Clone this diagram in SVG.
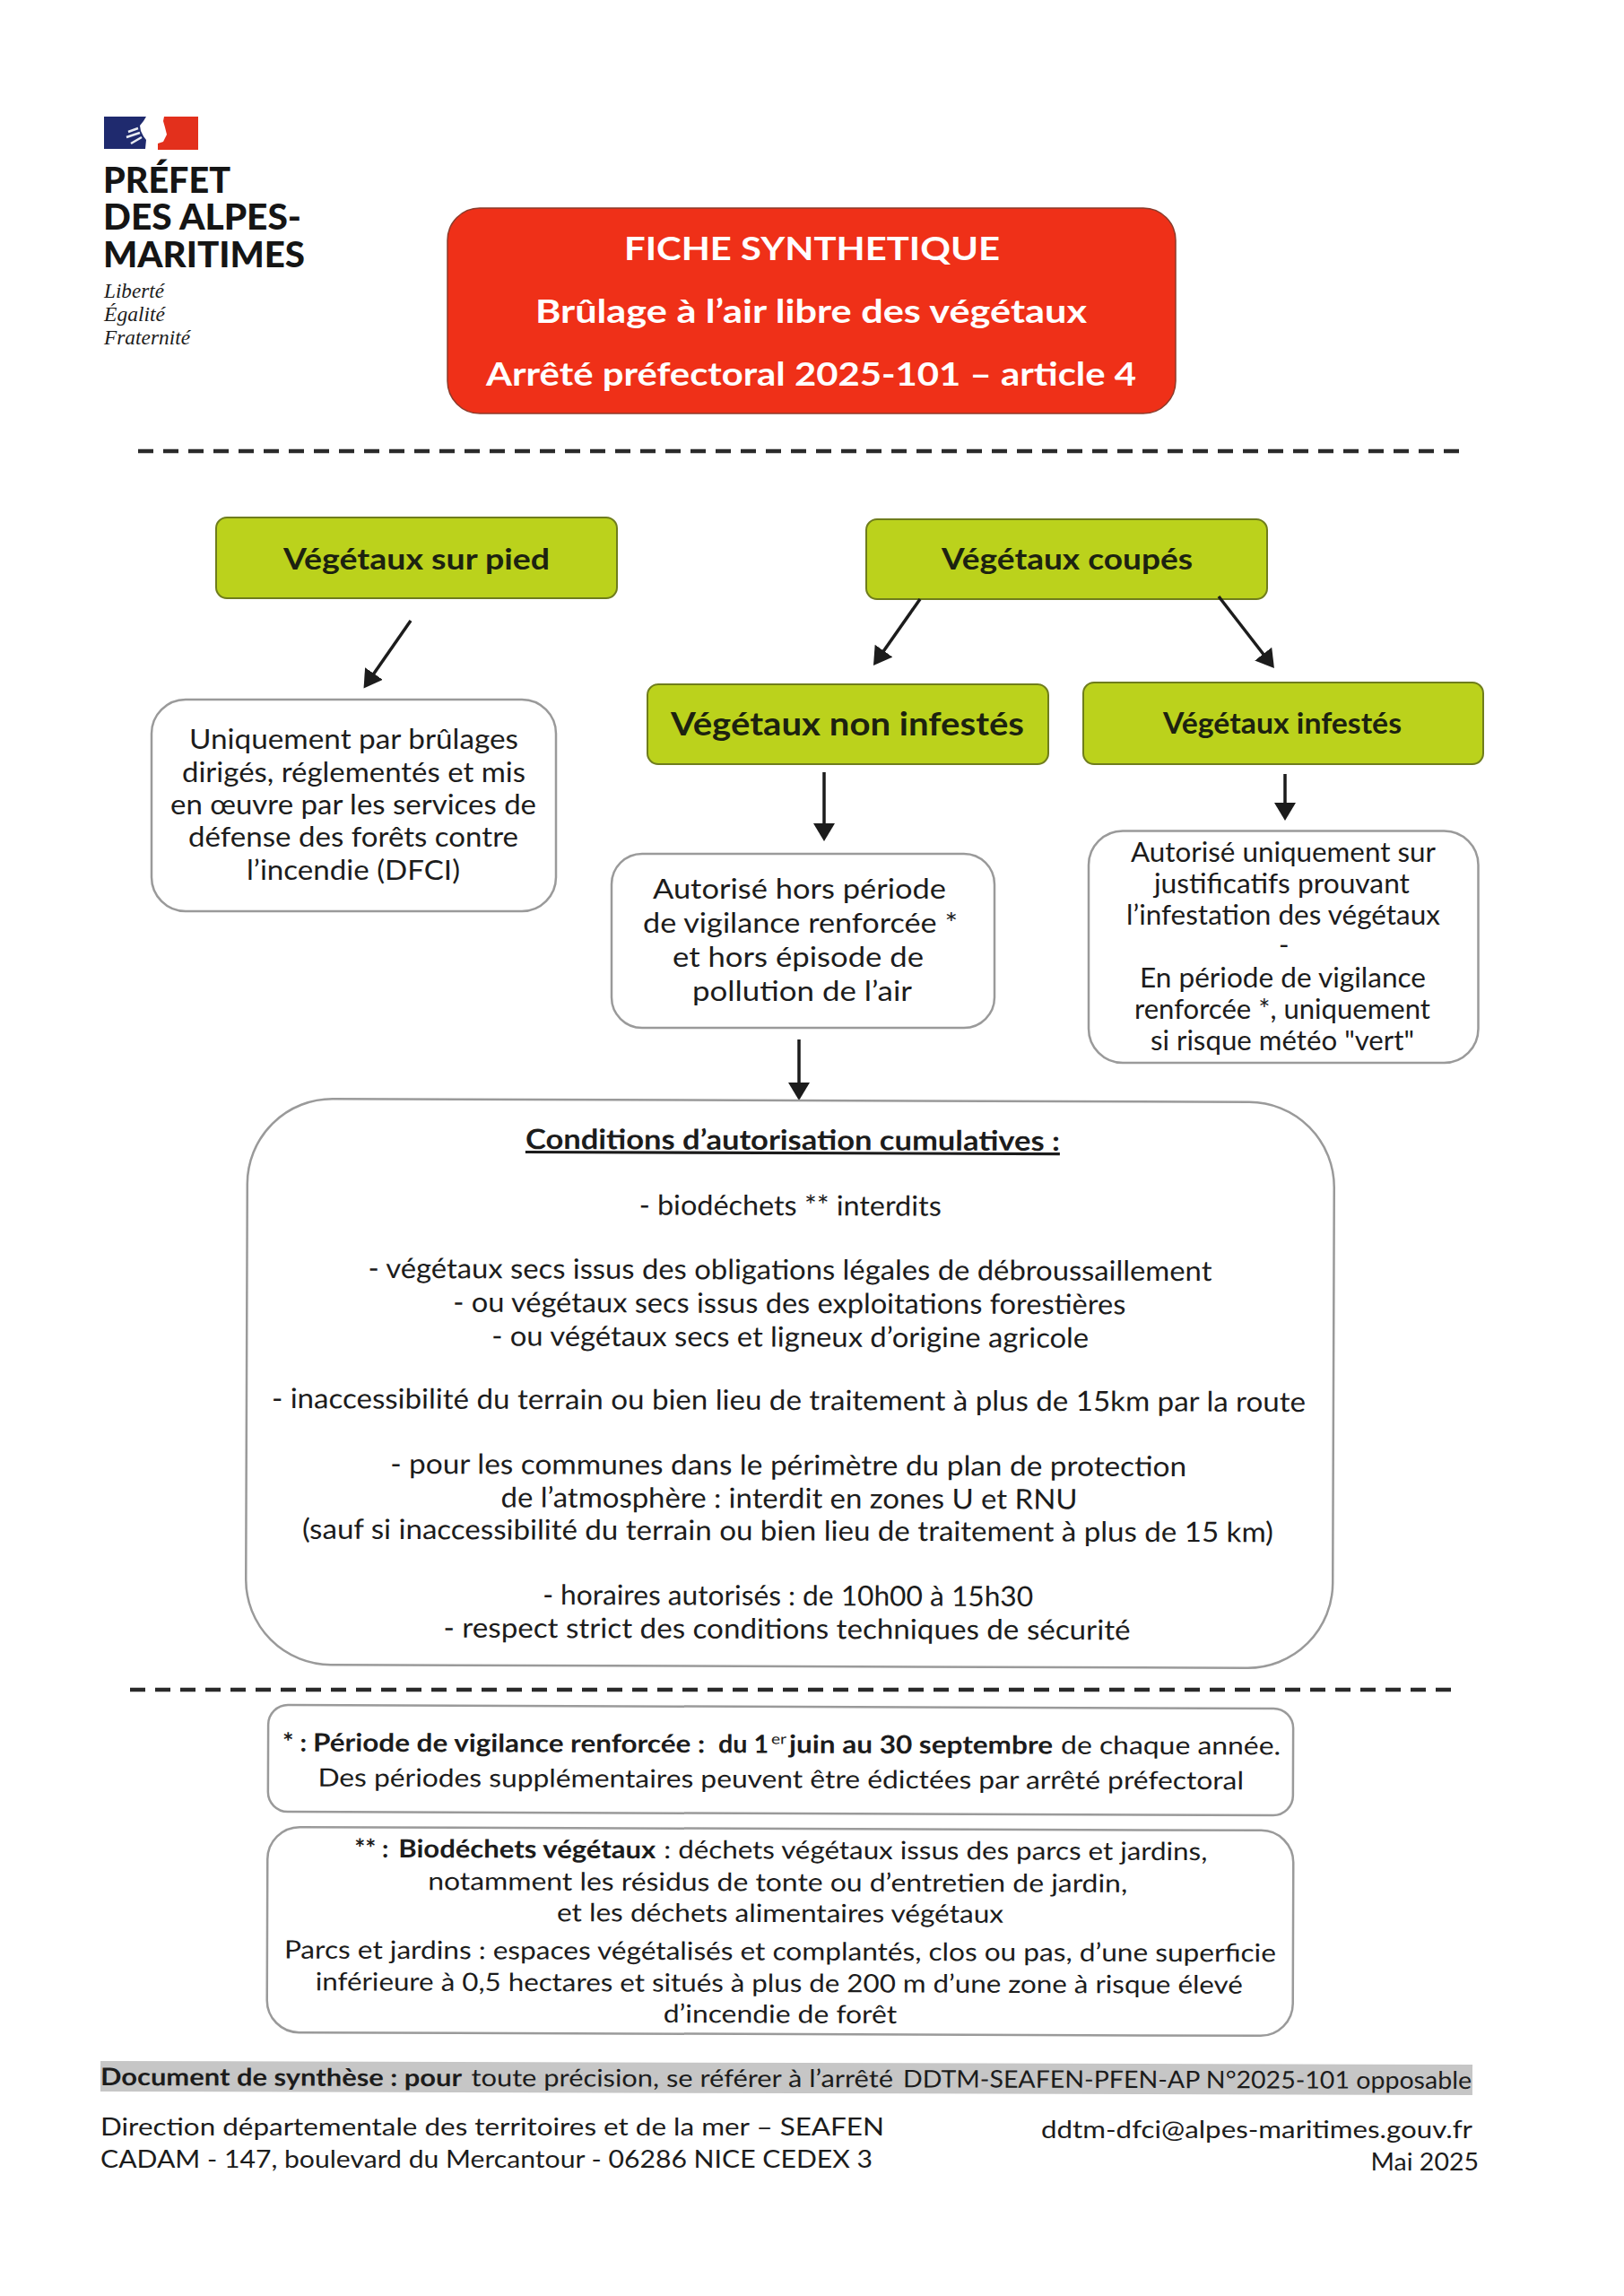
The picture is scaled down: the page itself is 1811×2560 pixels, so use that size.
<svg xmlns="http://www.w3.org/2000/svg" width="1811" height="2560" viewBox="0 0 1811 2560">
<style>
text{font-family:"Lato","Liberation Sans",sans-serif;fill:#1c1c1c;font-size:31px}
.g{font-weight:700;font-size:33px;fill:#1c2210}
.w{font-weight:700;font-size:36px;fill:#fff}
.n{font-size:28px}
.nb{font-size:28px;font-weight:700}
.f{font-size:27px}
.logo{font-weight:900;font-size:39px;fill:#151515}
.dev{font-family:"Liberation Serif",serif;font-style:italic;font-size:23px}
.box{fill:#fff;stroke:#9a9a9a;stroke-width:2.5}
.green{fill:#bbd21c;stroke:#6f7d1c;stroke-width:2}
.dash{stroke:#2a2a2a;stroke-width:4.5;stroke-dasharray:17 11;fill:none}
.arrow{stroke:#1c1c1c;stroke-width:3.5;fill:none;marker-end:url(#head)}
</style>
<defs>
<marker id="head" markerUnits="userSpaceOnUse" markerWidth="24" markerHeight="24" refX="8" refY="12" orient="auto"><path d="M0,0L20,12L0,24z" fill="#1c1c1c"/></marker>
</defs>
<rect width="1811" height="2560" fill="#fff"/>

<g id="logo">
<path d="M116,130H163L160,135L156,140L157,146L160,152L163,156L162,166H116z" fill="#1f2a6e"/>
<path d="M143,147L154,143M141,153L156,148M146,160L158,153" stroke="#e8ebf2" stroke-width="2.5" fill="none"/>
<path d="M183,130H221V167H176V160L182,158L186,150L184,142L182,135z" fill="#e3301c"/>
<text class="logo" x="115" y="215" textLength="142" lengthAdjust="spacingAndGlyphs">PRÉFET</text>
<text class="logo" x="115" y="256" textLength="221" lengthAdjust="spacingAndGlyphs">DES ALPES-</text>
<text class="logo" x="115" y="298" textLength="225" lengthAdjust="spacingAndGlyphs">MARITIMES</text>
<text class="dev" x="116" y="332" textLength="67" lengthAdjust="spacingAndGlyphs">Liberté</text>
<text class="dev" x="116" y="358" textLength="68" lengthAdjust="spacingAndGlyphs">Égalité</text>
<text class="dev" x="116" y="384" textLength="96" lengthAdjust="spacingAndGlyphs">Fraternité</text>
</g>

<g id="title">
<rect x="499" y="232" width="812" height="229" rx="36" fill="#ef3018" stroke="#8c3a2a" stroke-width="1.5"/>
<text class="w" x="696" y="290" textLength="419" lengthAdjust="spacingAndGlyphs">FICHE SYNTHETIQUE</text>
<text class="w" x="597" y="360" textLength="615" lengthAdjust="spacingAndGlyphs">Brûlage à l’air libre des végétaux</text>
<text class="w" x="542" y="430" textLength="725" lengthAdjust="spacingAndGlyphs">Arrêté préfectoral 2025-101 – article 4</text>
</g>

<g id="separators">
<path class="dash" d="M154,503H1630"/>
<path class="dash" d="M145,1884H1625"/>
</g>

<g id="node-sur-pied">
<rect class="green" x="241" y="577" width="447" height="90" rx="12"/>
<text class="g" x="316" y="635" textLength="297" lengthAdjust="spacingAndGlyphs">Végétaux sur pied</text>
</g>
<g id="node-coupes">
<rect class="green" x="966" y="579" width="447" height="89" rx="12"/>
<text class="g" x="1050" y="635" textLength="280" lengthAdjust="spacingAndGlyphs">Végétaux coupés</text>
</g>
<g id="node-non-infestes">
<rect class="green" x="722" y="763" width="447" height="89" rx="12"/>
<text class="g" style="font-size:36px" x="748" y="820" textLength="394" lengthAdjust="spacingAndGlyphs">Végétaux non infestés</text>
</g>
<g id="node-infestes">
<rect class="green" x="1208" y="761" width="446" height="91" rx="12"/>
<text class="g" x="1297" y="818" textLength="266" lengthAdjust="spacingAndGlyphs">Végétaux infestés</text>
</g>

<g id="connectors">
<path class="arrow" d="M458,692L412.4,757.6"/>
<path class="arrow" d="M1026,668L980.9,732.2"/>
<path class="arrow" d="M1359,665L1413.6,735.5"/>
<path class="arrow" d="M919,861V926"/>
<path class="arrow" d="M1433,863V903"/>
<path class="arrow" d="M891,1159V1215"/>
</g>

<g id="node-dfci">
<rect class="box" x="169" y="780" width="451" height="236" rx="38"/>
<text x="211" y="835" textLength="367" lengthAdjust="spacingAndGlyphs">Uniquement par brûlages</text>
<text x="203" y="871.5" textLength="383" lengthAdjust="spacingAndGlyphs">dirigés, réglementés et mis</text>
<text x="190" y="908" textLength="408" lengthAdjust="spacingAndGlyphs">en œuvre par les services de</text>
<text x="210" y="944" textLength="368" lengthAdjust="spacingAndGlyphs">défense des forêts contre</text>
<text x="275" y="980.5" textLength="238" lengthAdjust="spacingAndGlyphs">l’incendie (DFCI)</text>
</g>

<g id="node-hors-periode">
<rect class="box" x="682" y="952" width="427" height="194" rx="34"/>
<text x="728" y="1002" textLength="327" lengthAdjust="spacingAndGlyphs">Autorisé hors période</text>
<text x="717" y="1040" textLength="351" lengthAdjust="spacingAndGlyphs">de vigilance renforcée *</text>
<text x="750" y="1078" textLength="280" lengthAdjust="spacingAndGlyphs">et hors épisode de</text>
<text x="772" y="1116" textLength="245" lengthAdjust="spacingAndGlyphs">pollution de l’air</text>
</g>

<g id="node-justificatifs">
<rect class="box" x="1214" y="926.5" width="434.5" height="258.5" rx="38"/>
<text x="1261" y="961" textLength="340" lengthAdjust="spacingAndGlyphs">Autorisé uniquement sur</text>
<text x="1287" y="996" textLength="285" lengthAdjust="spacingAndGlyphs">justificatifs prouvant</text>
<text x="1256" y="1031" textLength="350" lengthAdjust="spacingAndGlyphs">l’infestation des végétaux</text>
<text x="1426" y="1064">-</text>
<text x="1271" y="1101" textLength="319" lengthAdjust="spacingAndGlyphs">En période de vigilance</text>
<text x="1265" y="1136" textLength="330" lengthAdjust="spacingAndGlyphs">renforcée *, uniquement</text>
<text x="1283" y="1171" textLength="294" lengthAdjust="spacingAndGlyphs">si risque météo "vert"</text>
</g>

<g id="node-conditions" transform="rotate(0.2 880 1543)">
<rect class="box" x="275" y="1227" width="1212" height="631" rx="95"/>
<text x="585" y="1282" textLength="596" lengthAdjust="spacingAndGlyphs" style="font-weight:700" text-decoration="underline">Conditions d’autorisation cumulatives :</text>
<text x="712" y="1355" textLength="337" lengthAdjust="spacingAndGlyphs">- biodéchets ** interdits</text>
<text x="410" y="1426.5" textLength="941" lengthAdjust="spacingAndGlyphs">- végétaux secs issus des obligations légales de débroussaillement</text>
<text x="505" y="1464" textLength="750" lengthAdjust="spacingAndGlyphs">- ou végétaux secs issus des exploitations forestières</text>
<text x="548" y="1501.5" textLength="666" lengthAdjust="spacingAndGlyphs">- ou végétaux secs et ligneux d’origine agricole</text>
<text x="303" y="1572" textLength="1153" lengthAdjust="spacingAndGlyphs">- inaccessibilité du terrain ou bien lieu de traitement à plus de 15km par la route</text>
<text x="435.5" y="1644.5" textLength="888" lengthAdjust="spacingAndGlyphs">- pour les communes dans le périmètre du plan de protection</text>
<text x="559" y="1681.5" textLength="643" lengthAdjust="spacingAndGlyphs">de l’atmosphère : interdit en zones U et RNU</text>
<text x="337.5" y="1717.5" textLength="1083" lengthAdjust="spacingAndGlyphs">(sauf si inaccessibilité du terrain ou bien lieu de traitement à plus de 15 km)</text>
<text x="606" y="1790" textLength="547" lengthAdjust="spacingAndGlyphs">- horaires autorisés : de 10h00 à 15h30</text>
<text x="495.5" y="1827" textLength="766" lengthAdjust="spacingAndGlyphs">- respect strict des conditions techniques de sécurité</text>
</g>

<g id="note-vigilance" transform="rotate(0.2 870 1962)">
<rect class="box" x="299" y="1903" width="1143" height="119" rx="22"/>
<text class="nb" x="315" y="1954.5" textLength="27" lengthAdjust="spacingAndGlyphs">* :</text>
<text class="nb" x="349" y="1954.5" textLength="437" lengthAdjust="spacingAndGlyphs">Période de vigilance renforcée :</text>
<text class="nb" x="801" y="1954.5" textLength="56" lengthAdjust="spacingAndGlyphs">du 1</text>
<text x="860" y="1944.5" style="font-size:16px" textLength="17" lengthAdjust="spacingAndGlyphs">er</text>
<text class="nb" x="880" y="1954.5" textLength="294" lengthAdjust="spacingAndGlyphs">juin au 30 septembre</text>
<text class="n" x="1183" y="1954.5" textLength="245" lengthAdjust="spacingAndGlyphs">de chaque année.</text>
<text class="n" x="354.5" y="1993.5" textLength="1032.5" lengthAdjust="spacingAndGlyphs">Des périodes supplémentaires peuvent être édictées par arrêté préfectoral</text>
</g>

<g id="note-biodechets" transform="rotate(0.2 870 2153)">
<rect class="box" x="298" y="2039" width="1144" height="229" rx="36"/>
<text class="nb" x="395" y="2072.5" textLength="38" lengthAdjust="spacingAndGlyphs">** :</text>
<text class="nb" x="444" y="2072.5" textLength="287" lengthAdjust="spacingAndGlyphs">Biodéchets végétaux</text>
<text class="n" x="740" y="2072.5" textLength="606" lengthAdjust="spacingAndGlyphs">: déchets végétaux issus des parcs et jardins,</text>
<text class="n" x="477" y="2108.5" textLength="780" lengthAdjust="spacingAndGlyphs">notamment les résidus de tonte ou d’entretien de jardin,</text>
<text class="n" x="621" y="2143" textLength="498" lengthAdjust="spacingAndGlyphs">et les déchets alimentaires végétaux</text>
<text class="n" x="317" y="2185.5" textLength="1106" lengthAdjust="spacingAndGlyphs">Parcs et jardins : espaces végétalisés et complantés, clos ou pas, d’une superficie</text>
<text class="n" x="352" y="2221" textLength="1034" lengthAdjust="spacingAndGlyphs">inférieure à 0,5 hectares et situés à plus de 200 m d’une zone à risque élevé</text>
<text class="n" x="740" y="2255.5" textLength="260.5" lengthAdjust="spacingAndGlyphs">d’incendie de forêt</text>
</g>

<g id="footer">
<g transform="rotate(0.15 877 2317)">
<rect x="112" y="2300" width="1530" height="34" fill="#c6c6c6"/>
<text class="f" style="font-weight:700" x="112" y="2327" textLength="403" lengthAdjust="spacingAndGlyphs">Document de synthèse : pour</text>
<text class="f" x="525.5" y="2327" textLength="470.5" lengthAdjust="spacingAndGlyphs">toute précision, se référer à l’arrêté</text>
<text class="f" x="1007" y="2327" textLength="634" lengthAdjust="spacingAndGlyphs">DDTM-SEAFEN-PFEN-AP N°2025-101 opposable</text>
</g>
<text class="f" x="112" y="2380.5" textLength="874" lengthAdjust="spacingAndGlyphs">Direction départementale des territoires et de la mer – SEAFEN</text>
<text class="f" x="112" y="2417" textLength="861" lengthAdjust="spacingAndGlyphs">CADAM - 147, boulevard du Mercantour - 06286 NICE CEDEX 3</text>
<text class="f" x="1161" y="2384" textLength="481" lengthAdjust="spacingAndGlyphs">ddtm-dfci@alpes-maritimes.gouv.fr</text>
<text class="f" x="1528.5" y="2419.5" textLength="120.5" lengthAdjust="spacingAndGlyphs">Mai 2025</text>
</g>
</svg>
